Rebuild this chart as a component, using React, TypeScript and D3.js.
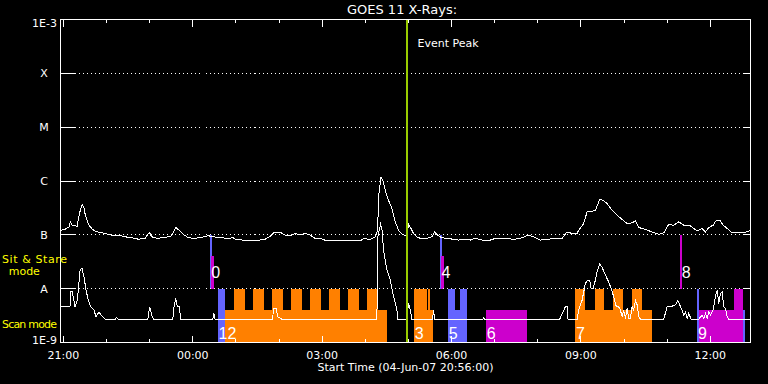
import React from "react";
import * as d3 from "d3";

// ---- Data (time in minutes since start 04-Jun-07 20:56:00, flux in W/m^2) ----
const longChannel: [number, number][] = [
  [0, 1.22e-7], [6.3, 1.26e-7], [11.8, 1.41e-7], [13.6, 1.74e-7], [16.4, 1.47e-7], [21.2, 1.47e-7],
  [23, 1.41e-7], [24.8, 2.01e-7], [27.6, 2.87e-7], [30.4, 3.66e-7], [32.3, 3.3e-7], [34.1, 2.49e-7],
  [36.9, 1.87e-7], [39.7, 1.51e-7], [43.4, 1.31e-7], [48, 1.17e-7], [55, 1.11e-7], [62, 1.06e-7],
  [71.3, 9.9e-8], [80.5, 9.9e-8], [89.8, 9.2e-8], [99.1, 8.8e-8], [108.3, 8.3e-8], [117.6, 8.6e-8],
  [123.6, 1.11e-7], [127, 9.2e-8], [134, 8.6e-8], [145.5, 8.9e-8], [154.8, 9.6e-8], [160.4, 1.37e-7],
  [165, 1.22e-7], [171, 1.02e-7], [178, 8.8e-8], [187.3, 8.6e-8], [196.6, 9.05e-8], [205.8, 9.6e-8],
  [212.7, 9.2e-8], [222, 8.9e-8], [231.4, 8.6e-8], [240.6, 8.8e-8], [243, 8.3e-8], [252.3, 8.0e-8],
  [263.8, 7.7e-8], [277.8, 8.0e-8], [284.7, 8.3e-8], [291.7, 9.4e-8], [297.3, 1.12e-7], [305.6, 1.12e-7],
  [312.6, 9.9e-8], [319.5, 9.6e-8], [326.5, 1.06e-7], [333.5, 9.9e-8], [340.4, 1.06e-7], [347.4, 9.9e-8],
  [354.3, 8.6e-8], [365.9, 8.3e-8], [368.3, 7.7e-8], [384.6, 7.7e-8], [403, 7.7e-8], [417, 7.7e-8],
  [421.6, 8.6e-8], [430.9, 8.2e-8], [437.9, 9.2e-8], [441.1, 1.22e-7], [443, 5.85e-7], [445.8, 1.16e-6],
  [448.6, 1.03e-6], [451.8, 6.7e-7], [456.4, 4.39e-7], [461.1, 3.08e-7], [465.7, 1.74e-7], [470.3, 1.22e-7],
  [475, 1.03e-7], [479.7, 9.6e-8], [482, 9.9e-8], [484.2, 1.58e-7], [487.6, 1.31e-7], [491.2, 1.06e-7],
  [495.9, 9.2e-8], [500.5, 8.6e-8], [509.8, 8.6e-8], [516.8, 9.2e-8], [520.4, 1.13e-7], [524.6, 9.9e-8],
  [530.7, 8.8e-8], [539.9, 8.6e-8], [546.9, 8.2e-8], [553.9, 8.0e-8], [563.2, 8.2e-8], [570.2, 8.0e-8],
  [577.1, 8.6e-8], [586.4, 8.0e-8], [598, 8.0e-8], [605, 8.6e-8], [621.2, 8.6e-8], [630.4, 8.2e-8],
  [639.8, 8.6e-8], [651.3, 9.9e-8], [658.3, 9.2e-8], [667.6, 8.0e-8], [676.9, 8.2e-8], [686.1, 8.6e-8],
  [697.8, 8.6e-8], [704.8, 1.13e-7], [711.7, 1.06e-7], [718.7, 1.06e-7], [720.9, 1.22e-7], [727.9, 1.62e-7],
  [732.6, 2.67e-7], [738.2, 2.67e-7], [744.2, 2.87e-7], [750.2, 4.53e-7], [754.9, 4.39e-7], [760.5, 3.82e-7],
  [767.4, 2.87e-7], [774.4, 2.31e-7], [781.4, 1.93e-7], [788.3, 1.62e-7], [795.3, 1.67e-7], [799.9, 1.82e-7],
  [804.5, 1.37e-7], [813.8, 1.26e-7], [823.1, 1.13e-7], [832.3, 1.02e-7], [839.3, 1.09e-7], [846.2, 1.56e-7],
  [853.2, 1.51e-7], [860.2, 1.74e-7], [867.1, 1.51e-7], [876.4, 1.47e-7], [885.8, 1.18e-7], [892.7, 1.31e-7],
  [897.3, 1.13e-7], [901.9, 1.37e-7], [908, 1.51e-7], [912.6, 1.87e-7], [917.2, 1.87e-7], [922, 1.51e-7],
  [927.5, 1.31e-7], [934.5, 1.09e-7], [941.5, 1.09e-7], [950.7, 1.09e-7], [957.7, 1.18e-7], [960, 1.18e-7],
];

const shortChannel: [number, number][] = [
  [0, 4.6e-9], [13.2, 4.6e-9], [14.2, 8.8e-9], [16.4, 8.8e-9], [20.2, 4.6e-9], [23.4, 6.1e-9],
  [27.2, 2.21e-8], [29.9, 2.38e-8], [32.7, 1.66e-8], [35.5, 9.4e-9], [38.7, 6.1e-9], [42, 4.6e-9],
  [46.6, 4.0e-9], [49.4, 3.0e-9], [53.6, 3.7e-9], [57.4, 3.1e-9], [62, 2.7e-9], [75.9, 2.7e-9],
  [78.2, 2.93e-9], [80.5, 2.7e-9], [121.4, 2.7e-9], [124.2, 4.6e-9], [127, 3.24e-9], [129.2, 2.7e-9],
  [156.2, 2.7e-9], [158, 4.6e-9], [160.4, 6.6e-9], [162.6, 4.6e-9], [165, 4.6e-9], [167.4, 2.7e-9],
  [211.9, 2.7e-9], [213.3, 3.48e-9], [215.1, 2.7e-9], [295.2, 2.7e-9], [296.3, 4.3e-9], [300, 4.3e-9],
  [302.4, 3.0e-9], [308, 2.7e-9], [440.2, 2.7e-9], [441.6, 9.4e-8], [445.3, 1.58e-7], [447.2, 1.31e-7],
  [449.4, 5.2e-8], [454.2, 2.21e-8], [458.8, 1.44e-8], [463.4, 7.1e-9], [468.1, 4.0e-9], [468.9, 2.7e-9],
  [481.7, 2.7e-9], [484.2, 5.3e-9], [486.6, 4.0e-9], [489, 2.7e-9], [517.7, 2.7e-9], [519.1, 4.0e-9],
  [520.4, 2.7e-9], [587.5, 2.7e-9], [588.7, 2.9e-9], [590, 2.7e-9], [694.5, 2.7e-9], [702.4, 4.6e-9],
  [704.8, 4.6e-9], [706.1, 2.7e-9], [718.7, 2.7e-9], [720.9, 4.0e-9], [725.7, 6.1e-9], [730.3, 1.25e-8],
  [733.5, 1.44e-8], [736.3, 1.4e-8], [738.2, 1.01e-8], [741, 1.01e-8], [744.2, 1.44e-8], [746.6, 2.06e-8],
  [750.2, 2.86e-8], [753.6, 2.48e-8], [758.1, 1.79e-8], [762.7, 1.34e-8], [766, 1.01e-8], [769.7, 7.1e-9],
  [773.4, 4.6e-9], [776.6, 4.6e-9], [779, 4.0e-9], [781.4, 3.0e-9], [783.6, 4.0e-9], [786, 2.8e-9],
  [788.3, 4.3e-9], [790.5, 2.8e-9], [792.9, 2.8e-9], [795.3, 4.6e-9], [797.5, 4.0e-9], [799.9, 6.1e-9],
  [802.3, 5.0e-9], [804.5, 3.0e-9], [806.9, 2.7e-9], [839.3, 2.7e-9], [844, 4.6e-9], [848.6, 4.6e-9],
  [855.6, 5.0e-9], [858.8, 6.1e-9], [861.5, 5.0e-9], [864.9, 4.0e-9], [867.1, 3.24e-9], [869.5, 3.7e-9],
  [871.9, 2.8e-9], [874.1, 3.48e-9], [877.4, 2.7e-9], [888, 2.7e-9], [892.7, 3.24e-9], [895, 2.8e-9],
  [897.3, 3.48e-9], [899.7, 2.8e-9], [901.9, 3.7e-9], [904.3, 3.24e-9], [908, 4.0e-9], [911.2, 7.1e-9],
  [913.6, 9.4e-9], [915.8, 5.3e-9], [918.2, 8.2e-9], [920.6, 8.8e-9], [922.8, 4.6e-9], [925.2, 4.3e-9],
  [927.5, 3.0e-9], [929.8, 2.7e-9], [960, 2.7e-9],
];

// mode blocks: [startMin, endMin, topFlux, colorKey]
const modeBlocks: [number, number, number, string][] = [
  [219.3, 229.0, 1e-8, "blue"],
  [229.0, 454.2, 4e-9, "orange"],
  [242, 256.9, 1e-8, "orange"], [268, 283.3, 1e-8, "orange"], [294.5, 309.4, 1e-8, "orange"],
  [321, 336.2, 1e-8, "orange"], [347.4, 362.7, 1e-8, "orange"], [373.8, 389.1, 1e-8, "orange"],
  [400.3, 415.5, 1e-8, "orange"], [426.7, 442, 1e-8, "orange"],
  [492.2, 509.9, 1e-8, "orange"], [509.9, 511.3, 4e-9, "orange"], [511.3, 513.5, 1e-8, "orange"],
  [513.5, 518.6, 4e-9, "orange"],
  [539.5, 549.3, 1e-8, "blue"], [549.3, 556.2, 4e-9, "blue"], [556.2, 566, 1e-8, "blue"],
  [592.4, 649.5, 4e-9, "magenta"],
  [716.4, 823.6, 4e-9, "orange"],
  [716.4, 730.3, 1e-8, "orange"], [743.2, 756.7, 1e-8, "orange"], [769.2, 783.2, 1e-8, "orange"],
  [795.7, 809.6, 1e-8, "orange"],
  [886.2, 888.3, 1e-8, "blue"], [888.3, 950.2, 4e-9, "magenta"], [937.7, 950.2, 1e-8, "magenta"],
  [950.2, 952.3, 4e-9, "blue"],
];

// sit & stare markers: [startMin, endMin, bottomFlux, topFlux, colorKey]
const stareMarks: [number, number, number, number, string][] = [
  [208.2, 210.9, 1e-8, 1e-7, "blue"], [209.6, 213.7, 1e-8, 4e-8, "magenta"],
  [528.6, 531.4, 1e-8, 1e-7, "blue"], [530, 533, 1e-8, 4e-8, "magenta"],
  [862.6, 865.2, 1e-8, 1e-7, "magenta"],
];

const scanLabels: [string, number][] = [["12", 219.3], ["3", 492.2], ["5", 539.5], ["6", 592.4], ["7", 716.4], ["9", 886.2]];
const stareLabels: [string, number][] = [["0", 208.2], ["4", 528.6], ["8", 863.1]];

const eventPeakMin = 482.4;
const classLabels: [string, number][] = [["X", 1e-4], ["M", 1e-5], ["C", 1e-6], ["B", 1e-7], ["A", 1e-8]];
const majorTickMins = [4, 184, 364, 544, 724, 904];
const majorTickLabels = ["21:00", "00:00", "03:00", "06:00", "09:00", "12:00"];
const minorTickMins = [4, 64, 124, 184, 244, 304, 364, 424, 484, 544, 604, 664, 724, 784, 844, 904];

const COLORS: Record<string, string> = { orange: "#ff8000", blue: "#6464ff", magenta: "#cc00cc" };

const W = 768, H = 384;
const L = 60.5, R = 750.5, T = 19.5, B = 342.5;
const FONT = "'DejaVu Sans', sans-serif";

export default function App() {
  const x = d3.scaleLinear().domain([0, 960]).range([L, R]);
  const y = d3.scaleLog().domain([1e-9, 1e-3]).range([B, T]);
  const line = d3.line<[number, number]>().x((d) => x(d[0])).y((d) => y(d[1]));
  const px = (v: number) => Math.round(v - 0.5) + 0.5;
  const snap = (v: number) => Math.round(v);

  return (
    <svg width={W} height={H} style={{ position: "absolute", left: 0, top: 0, display: "block" }}>
      <rect x={0} y={0} width={W} height={H} fill="#000" />
      <g shapeRendering="crispEdges">
        {modeBlocks.map((b, i) => (
          <rect key={"mb" + i} x={snap(x(b[0]))} width={Math.max(1, snap(x(b[1])) - snap(x(b[0])))} y={snap(y(b[2]))} height={snap(y(1e-9)) - snap(y(b[2]))} fill={COLORS[b[3]]} />
        ))}
        {stareMarks.map((m, i) => (
          <rect key={"sm" + i} x={snap(x(m[0]))} width={Math.max(2, snap(x(m[1])) - snap(x(m[0])))} y={snap(y(m[3]))} height={snap(y(m[2])) - snap(y(m[3]))} fill={COLORS[m[4]]} />
        ))}
        {classLabels.map(([, v], i) => (
          <g key={"g" + i}>
            <line x1={L} x2={L + 14} y1={px(y(v))} y2={px(y(v))} stroke="#fff" />
            <line x1={L + 14} x2={R} y1={px(y(v))} y2={px(y(v))} stroke="#fff" strokeDasharray="1,3" />
            <line x1={R - 8} x2={R} y1={px(y(v))} y2={px(y(v))} stroke="#fff" />
          </g>
        ))}
        <path d={line(shortChannel) || ""} fill="none" stroke="#fff" strokeWidth={1} />
        <path d={line(longChannel) || ""} fill="none" stroke="#fff" strokeWidth={1} />
        <rect x={snap(x(eventPeakMin)) - 1} y={T} width={2} height={B - T} fill="#99cc00" />
        <rect x={L} y={T} width={R - L} height={B - T} fill="none" stroke="#fff" />
        {minorTickMins.map((m, i) => (
          <g key={"mt" + i}>
            <line x1={px(x(m))} x2={px(x(m))} y1={T} y2={T + 3.5} stroke="#fff" />
            <line x1={px(x(m))} x2={px(x(m))} y1={B} y2={B - 3.5} stroke="#fff" />
          </g>
        ))}
        {majorTickMins.map((m, i) => (
          <g key={"Mt" + i}>
            <line x1={px(x(m))} x2={px(x(m))} y1={T} y2={T + 7} stroke="#fff" />
            <line x1={px(x(m))} x2={px(x(m))} y1={B} y2={B - 7} stroke="#fff" />
          </g>
        ))}
      </g>
      <g fontFamily={FONT} fontSize={11} fill="#fff">
        <text x={402} y={14} fontSize={13} textAnchor="middle">GOES 11 X-Rays:</text>
        <text x={417.5} y={47}>Event Peak</text>
        <text x={57} y={y(1e-3) + 7.5} textAnchor="end">1E-3</text>
        <text x={57} y={y(1e-9) + 1.5} textAnchor="end">1E-9</text>
        {classLabels.map(([s, v], i) => (
          <text key={"cl" + i} x={44} y={y(v) + 4} textAnchor="middle">{s}</text>
        ))}
        {majorTickMins.map((m, i) => (
          <text key={"tl" + i} x={x(m)} y={359} textAnchor="middle">{majorTickLabels[i]}</text>
        ))}
        <text x={(L + R) / 2} y={371} textAnchor="middle">Start Time (04-Jun-07 20:56:00)</text>
        <text x={2} y={263} fill="#ffff00" textLength={65} lengthAdjust="spacing">Sit &amp; Stare</text>
        <text x={24.3} y={275} fill="#ffff00" textAnchor="middle">mode</text>
        <text x={2} y={327.5} fill="#ffff00" textLength={55} lengthAdjust="spacing">Scan mode</text>
      </g>
      <g fontFamily="'Liberation Sans', sans-serif" fontSize={16} fill="#fff">
        {scanLabels.map(([s, m], i) => (
          <text key={"scl" + i} x={x(m) + 0.5} y={338.5}>{s}</text>
        ))}
        {stareLabels.map(([s, m], i) => (
          <text key={"stl" + i} x={x(m) + 1} y={278}>{s}</text>
        ))}
      </g>
    </svg>
  );
}
